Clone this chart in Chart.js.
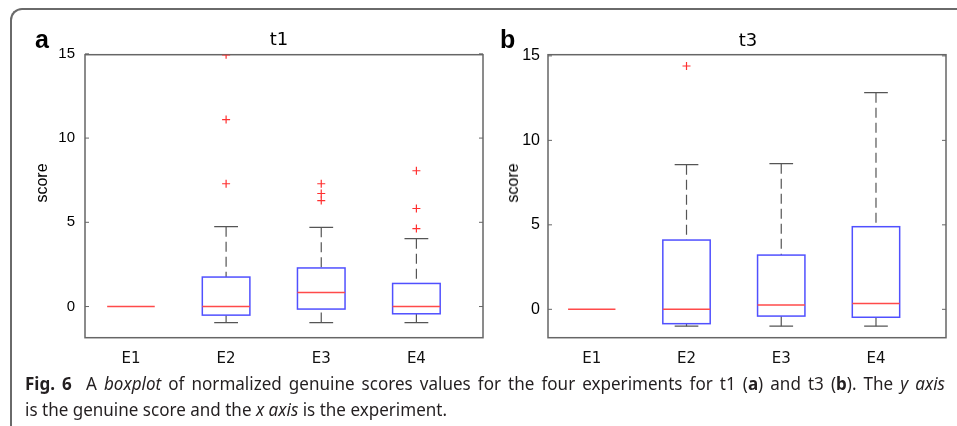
<!DOCTYPE html>
<html>
<head>
<meta charset="utf-8">
<script src="https://cdn.jsdelivr.net/npm/chart.js@4.4.0/dist/chart.umd.min.js"></script>
<style>
  body { margin: 0; background: #fff; width: 957px; height: 426px; overflow: hidden; position: relative; }
  canvas { position: absolute; top: 0; }
  .frame { position: absolute; left: 10px; top: 8px; width: 1000px; height: 440px;
           border-top: 2px solid #6a6a6a; border-left: 2px solid #6a6a6a; border-top-left-radius: 12px; }
  .txt { position: absolute; white-space: nowrap; line-height: 1; color: #000; }
  .panel { font: bold 25px "Liberation Sans", Arial, sans-serif; }
  .title { font: 18px "DejaVu Sans", sans-serif; transform: translateX(-50%); }
  .ylab { font: 16px "Liberation Sans", Arial, sans-serif; transform: translate(-50%, -50%) rotate(-90deg); }
  .cap { position: absolute; left: 25px; white-space: nowrap; font: 18px "Noto Sans", sans-serif;
         line-height: 26px; color: #231f20; transform-origin: 0 0; }
</style>
</head>
<body>
<div class="frame"></div>
<canvas id="chartA" width="490" height="426" style="left:0"></canvas>
<canvas id="chartB" width="467" height="426" style="left:490px"></canvas>

<div class="txt panel" style="left:35px; top:25px">a</div>
<div class="txt panel" style="left:500px; top:25px">b</div>
<div class="txt title" style="left:279px; top:28px">t1</div>
<div class="txt title" style="left:748px; top:29px">t3</div>
<div class="txt ylab" style="left:42px; top:183px">score</div>
<div class="txt ylab" style="left:513px; top:183px">score</div>

<div class="cap" id="cap1" style="top:370px"><b>Fig. 6</b>&nbsp; A <i>boxplot</i> of normalized genuine scores values for the four experiments for t1 (<b>a</b>) and t3 (<b>b</b>). The <i>y axis</i></div>
<div class="cap" id="cap2" style="top:396px">is the genuine score and the <i>x axis</i> is the experiment.</div>

<script>
const categories = ['E1', 'E2', 'E3', 'E4'];
const yTickValues = [0, 5, 10, 15];

// t1 (panel a)
const t1Low = [0, -0.95, -0.95, -0.95];
const t1Q1 = [0, -0.51, -0.15, -0.43];
const t1Median = [0, 0, 0.83, 0];
const t1Q3 = [0, 1.75, 2.29, 1.37];
const t1High = [0, 4.74, 4.70, 4.03];
const t1Outliers = [[], [7.29, 11.1, 14.94], [6.29, 6.71, 7.29], [4.63, 5.82, 8.06]];

// t3 (panel b)
const t3Low = [0, -1.0, -1.0, -1.0];
const t3Q1 = [0, -0.85, -0.4, -0.47];
const t3Median = [0, 0, 0.25, 0.35];
const t3Q3 = [0, 4.1, 3.21, 4.89];
const t3High = [0, 8.56, 8.62, 12.82];
const t3Outliers = [[], [14.4], [], []];

// box / whisker drawing on top of the chart's scales
const boxPlugin = {
    id: 'boxes',
    beforeDatasetsDraw(chart, args, opts) {
        const ctx = chart.ctx;
        const x = chart.scales.x, y = chart.scales.y;
        const area = chart.chartArea;
        ctx.save();

        // axes box + inward ticks
        ctx.strokeStyle = '#666';
        ctx.lineWidth = 1.5;
        ctx.strokeRect(area.left, area.top, area.right - area.left, area.bottom - area.top);
        ctx.lineWidth = 1;
        yTickValues.forEach(v => {
            const py = y.getPixelForValue(v);
            ctx.beginPath();
            ctx.moveTo(area.left, py); ctx.lineTo(area.left + 4, py);
            ctx.moveTo(area.right, py); ctx.lineTo(area.right - 4, py);
            ctx.stroke();
        });

        opts.median.forEach((m, i) => {
            const c = i + 1;
            const xl = x.getPixelForValue(c - 0.25), xr = x.getPixelForValue(c + 0.25);
            const cl = x.getPixelForValue(c - 0.125), cr = x.getPixelForValue(c + 0.125);
            const xc = x.getPixelForValue(c);
            const pq1 = y.getPixelForValue(opts.q1[i]), pq3 = y.getPixelForValue(opts.q3[i]);
            const plo = y.getPixelForValue(opts.low[i]), phi = y.getPixelForValue(opts.high[i]);

            if (opts.q3[i] !== opts.q1[i]) {
                // whiskers
                ctx.strokeStyle = '#555';
                ctx.lineWidth = 1.2;
                ctx.setLineDash([10, 5]);
                ctx.beginPath();
                ctx.moveTo(xc, phi); ctx.lineTo(xc, pq3);
                ctx.moveTo(xc, plo); ctx.lineTo(xc, pq1);
                ctx.stroke();
                ctx.setLineDash([]);
                ctx.beginPath();
                ctx.moveTo(cl, phi); ctx.lineTo(cr, phi);
                ctx.moveTo(cl, plo); ctx.lineTo(cr, plo);
                ctx.stroke();

                // box
                ctx.strokeStyle = '#5050ff';
                ctx.lineWidth = 1.5;
                ctx.strokeRect(xl, pq3, xr - xl, pq1 - pq3);
            }

            // median
            const pm = y.getPixelForValue(m);
            ctx.strokeStyle = '#ff4a4a';
            ctx.lineWidth = 1.5;
            ctx.beginPath();
            ctx.moveTo(xl, pm); ctx.lineTo(xr, pm);
            ctx.stroke();
        });
        ctx.restore();
    }
};

function outlierPoints(list) {
    const pts = [];
    list.forEach((vals, i) => vals.forEach(v => pts.push({ x: i + 1, y: v })));
    return pts;
}

function makeChart(id, stats, outliers, xr, yr, yAxisWidth, padRight, yFontSize, yPad) {
    return new Chart(document.getElementById(id), {
        type: 'scatter',
        data: {
            datasets: [{
                data: outlierPoints(outliers),
                pointStyle: 'cross',
                radius: 4,
                borderColor: '#ff3030',
                borderWidth: 1.2,
                backgroundColor: '#ff3030'
            }]
        },
        plugins: [boxPlugin],
        options: {
            responsive: false,
            animation: false,
            devicePixelRatio: 1,
            layout: { padding: { top: 54.7, right: padRight, left: 0, bottom: 0 } },
            plugins: {
                legend: { display: false },
                tooltip: { enabled: false },
                boxes: stats
            },
            scales: {
                x: {
                    type: 'linear',
                    min: xr[0], max: xr[1],
                    grid: { display: false, drawTicks: false },
                    border: { display: false },
                    afterBuildTicks: s => { s.ticks = categories.map((c, i) => ({ value: i + 1 })); },
                    afterFit: s => { s.height = 426 - 337.7; },
                    ticks: {
                        padding: 12,
                        color: '#111',
                        font: { family: 'DejaVu Sans', size: 15 },
                        callback: v => categories[Math.round(v) - 1]
                    }
                },
                y: {
                    min: yr[0], max: yr[1],
                    grid: { display: false, drawTicks: false },
                    border: { display: false },
                    afterBuildTicks: s => { s.ticks = yTickValues.map(v => ({ value: v })); },
                    afterFit: s => { s.width = yAxisWidth; },
                    ticks: {
                        padding: yPad,
                        color: '#000',
                        font: { family: 'Liberation Sans', size: yFontSize }
                    }
                }
            }
        }
    });
}

makeChart('chartA',
    { low: t1Low, q1: t1Q1, median: t1Median, q3: t1Q3, high: t1High },
    t1Outliers, [0.517, 4.70], [-1.85, 14.95], 85, 7, 15, 10);
makeChart('chartB',
    { low: t3Low, q1: t3Q1, median: t3Median, q3: t3Q3, high: t3High },
    t3Outliers, [0.538, 4.739], [-1.68, 15.07], 58, 11, 16, 8);

// caption: condense to the reference letter width, justify the first line
const cap1 = document.getElementById('cap1');
const cap2 = document.getElementById('cap2');
const k = 422 / cap2.getBoundingClientRect().width;
cap1.style.transform = 'scaleX(' + k + ')';
cap2.style.transform = 'scaleX(' + k + ')';
const w1 = cap1.getBoundingClientRect().width / k;
const nSpaces = (cap1.textContent.match(/[ \u00a0]/g) || []).length;
cap1.style.wordSpacing = Math.max(0, (920 / k - w1) / nSpaces) + 'px';
</script>
</body>
</html>
